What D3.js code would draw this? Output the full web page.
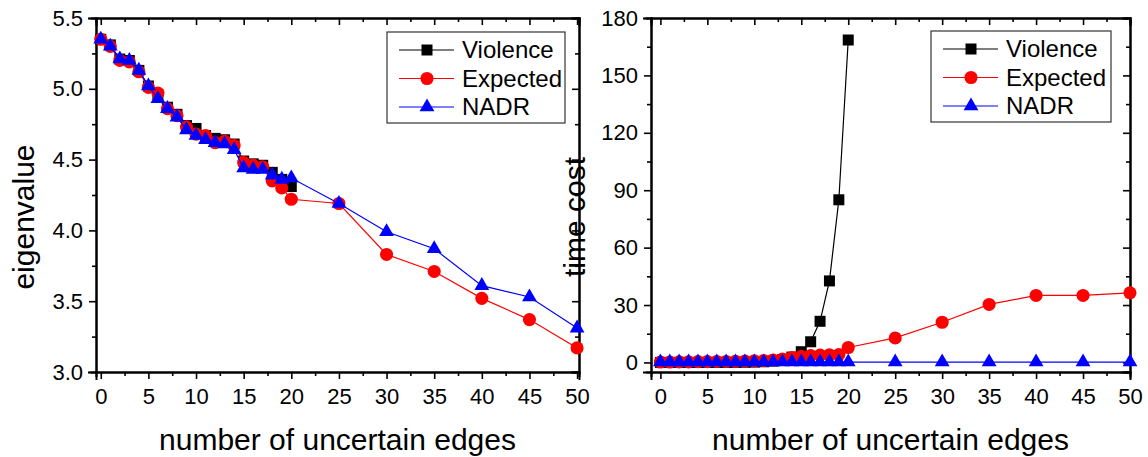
<!DOCTYPE html>
<html>
<head>
<meta charset="utf-8">
<script src="https://cdn.jsdelivr.net/npm/d3@7"></script>
<style>
  body { margin: 0; background: #fff; }
  svg { display: block; font-family: "Liberation Sans", Arial, sans-serif; }
  .frame path.domain { stroke: #000; stroke-width: 2; }
  .frame .tick line { stroke: #000; stroke-width: 1.6; }
  .frame .tick text { font-size: 22px; fill: #000; }
</style>
</head>
<body>
<svg id="chart" width="1148" height="457"></svg>
<script>
// số cạnh không chắc chắn
const violenceEdges = [0, 1, 2, 3, 4, 5, 6, 7, 8, 9, 10, 11, 12, 13, 14, 15, 16, 17, 18, 19, 20];
const expectedEdges = [0, 1, 2, 3, 4, 5, 6, 7, 8, 9, 10, 11, 12, 13, 14, 15, 16, 17, 18, 19, 20, 25, 30, 35, 40, 45, 50];
const nadrEdges = [0, 1, 2, 3, 4, 5, 6, 7, 8, 9, 10, 11, 12, 13, 14, 15, 16, 17, 18, 19, 20, 25, 30, 35, 40, 45, 50];

// eigenvalue (trái)
const violenceEigen = [5.35, 5.31, 5.21, 5.20, 5.13, 5.02, 4.96, 4.87, 4.82, 4.74, 4.72, 4.67, 4.65, 4.64, 4.61, 4.49, 4.47, 4.46, 4.41, 4.36, 4.31];
const expectedEigen = [5.35, 5.30, 5.20, 5.19, 5.12, 5.01, 4.97, 4.86, 4.81, 4.73, 4.68, 4.67, 4.62, 4.63, 4.60, 4.48, 4.46, 4.45, 4.35, 4.30, 4.22,
  4.19, 3.83, 3.71, 3.52, 3.37, 3.17];
const nadrEigen = [5.35, 5.30, 5.21, 5.20, 5.13, 5.02, 4.93, 4.86, 4.80, 4.71, 4.67, 4.64, 4.62, 4.61, 4.57, 4.44, 4.43, 4.43, 4.39, 4.36, 4.37,
  4.19, 3.99, 3.87, 3.61, 3.53, 3.31];

// time cost (phải)
const violenceTime = [0.0, 0.0, 0.0, 0.0, 0.01, 0.01, 0.01, 0.02, 0.04, 0.09, 0.17, 0.35, 0.7, 1.4, 2.8, 5.6, 10.8, 21.5, 42.6, 85, 168.5];
const expectedTime = [0.2, 0.2, 0.3, 0.3, 0.4, 0.4, 0.5, 0.5, 0.6, 0.7, 0.8, 1.0, 1.3, 1.8, 2.6, 3.2, 3.6, 3.8, 4.0, 4.1, 7.8,
  12.8, 21.0, 30.3, 35.0, 35.0, 36.4];
const nadrTime = [0.2, 0.2, 0.2, 0.2, 0.2, 0.2, 0.2, 0.2, 0.2, 0.2, 0.2, 0.2, 0.2, 0.2, 0.2, 0.2, 0.2, 0.2, 0.2, 0.2, 0.2,
  0.2, 0.2, 0.2, 0.2, 0.2, 0.2];

const seriesNames = ['Violence', 'Expected', 'NADR'];
const xMajorTicks = [0, 5, 10, 15, 20, 25, 30, 35, 40, 45, 50];
const xMinorTicks = [2.5, 7.5, 12.5, 17.5, 22.5, 27.5, 32.5, 37.5, 42.5, 47.5];
const eigenMajorTicks = [3.0, 3.5, 4.0, 4.5, 5.0, 5.5];
const eigenMinorTicks = [3.25, 3.75, 4.25, 4.75, 5.25];
const timeMajorTicks = [0, 30, 60, 90, 120, 150, 180];
const timeMinorTicks = [15, 45, 75, 105, 135, 165];

const colors = ['#000000', '#ff0000', '#0000ff'];
const symbols = [d3.symbolSquare, d3.symbolCircle, d3.symbolTriangle];
const symbolSizes = [121, 135, 95];

const svg = d3.select('#chart');
svg.append('rect').attr('width', 1148).attr('height', 457).attr('fill', '#fff');

// Vẽ một khung đồ thị
function drawPanel(cfg) {
  const x = d3.scaleLinear().domain(cfg.xDomain).range([cfg.left, cfg.right]);
  const y = d3.scaleLinear().domain(cfg.yDomain).range([cfg.bottom, cfg.top]);
  const g = svg.append('g');

  const addAxis = (axis, tx, ty) => g.append('g').attr('class', 'frame')
    .attr('transform', `translate(${tx},${ty})`).call(axis);

  // trục dưới & trái: vạch hướng ra ngoài
  addAxis(d3.axisBottom(x).tickValues(xMajorTicks).tickSize(7).tickPadding(9).tickFormat(d3.format('d')), 0, cfg.bottom);
  addAxis(d3.axisBottom(x).tickValues(xMinorTicks).tickSize(4).tickFormat(''), 0, cfg.bottom);
  addAxis(d3.axisLeft(y).tickValues(cfg.yMajor).tickSize(7).tickPadding(6).tickFormat(cfg.yFormat), cfg.left, 0);
  addAxis(d3.axisLeft(y).tickValues(cfg.yMinor).tickSize(4).tickFormat(''), cfg.left, 0);
  // trục trên & phải: vạch hướng vào trong
  addAxis(d3.axisTop(x).tickValues(xMajorTicks).tickSize(-7).tickFormat(''), 0, cfg.top);
  addAxis(d3.axisTop(x).tickValues(xMinorTicks).tickSize(-4).tickFormat(''), 0, cfg.top);
  addAxis(d3.axisRight(y).tickValues(cfg.yMajor).tickSize(-7).tickFormat(''), cfg.right, 0);
  addAxis(d3.axisRight(y).tickValues(cfg.yMinor).tickSize(-4).tickFormat(''), cfg.right, 0);
  g.selectAll('.frame path.domain').attr('stroke-linecap', 'square');

  // các chuỗi dữ liệu
  cfg.series.forEach((s, i) => {
    const pts = s.xs.map((v, k) => [v, s.ys[k]]);
    g.append('path')
      .datum(pts)
      .attr('fill', 'none')
      .attr('stroke', colors[i])
      .attr('stroke-width', 1.2)
      .attr('d', d3.line().x(d => x(d[0])).y(d => y(d[1])));
    g.append('g').selectAll('path')
      .data(pts)
      .join('path')
      .attr('transform', d => `translate(${x(d[0])},${y(d[1])})`)
      .attr('fill', colors[i])
      .attr('d', d3.symbol(symbols[i], symbolSizes[i]));
  });

  // nhãn trục
  g.append('text')
    .attr('x', (cfg.left + cfg.right) / 2)
    .attr('y', 450)
    .attr('text-anchor', 'middle')
    .attr('font-size', 30)
    .text('number of uncertain edges');
  g.append('text')
    .attr('transform', `translate(${cfg.yLabelX},217) rotate(-90)`)
    .attr('text-anchor', 'middle')
    .attr('font-size', 30)
    .text(cfg.yLabel);

  // chú giải
  const lg = g.append('g').attr('transform', `translate(${cfg.legend.x},${cfg.legend.y})`);
  lg.append('rect')
    .attr('width', cfg.legend.w).attr('height', 91)
    .attr('fill', '#fff').attr('stroke', '#333').attr('stroke-width', 1.2);
  seriesNames.forEach((name, i) => {
    const cy = 18 + i * 28.5;
    lg.append('line')
      .attr('x1', 12).attr('x2', 67).attr('y1', cy).attr('y2', cy)
      .attr('stroke', colors[i]).attr('stroke-width', 1.2);
    lg.append('path')
      .attr('transform', `translate(40,${cy})`)
      .attr('fill', colors[i])
      .attr('d', d3.symbol(symbols[i], symbolSizes[i]));
    lg.append('text')
      .attr('x', 75).attr('y', cy + 8)
      .attr('font-size', 24)
      .text(name);
  });
}

drawPanel({
  left: 96, right: 579, top: 18, bottom: 372,
  xDomain: [-0.5, 50.2], yDomain: [3.0, 5.5],
  yMajor: eigenMajorTicks, yMinor: eigenMinorTicks, yFormat: d3.format('.1f'),
  yLabel: 'eigenvalue', yLabelX: 34,
  legend: { x: 387, y: 32, w: 178 },
  series: [
    { xs: violenceEdges, ys: violenceEigen },
    { xs: expectedEdges, ys: expectedEigen },
    { xs: nadrEdges, ys: nadrEigen }
  ]
});

drawPanel({
  left: 651, right: 1130, top: 18, bottom: 372,
  xDomain: [-1, 50], yDomain: [-5, 180],
  yMajor: timeMajorTicks, yMinor: timeMinorTicks, yFormat: d3.format('d'),
  yLabel: 'time cost', yLabelX: 585,
  legend: { x: 931, y: 31, w: 180 },
  series: [
    { xs: violenceEdges, ys: violenceTime },
    { xs: expectedEdges, ys: expectedTime },
    { xs: nadrEdges, ys: nadrTime }
  ]
});
</script>
</body>
</html>
